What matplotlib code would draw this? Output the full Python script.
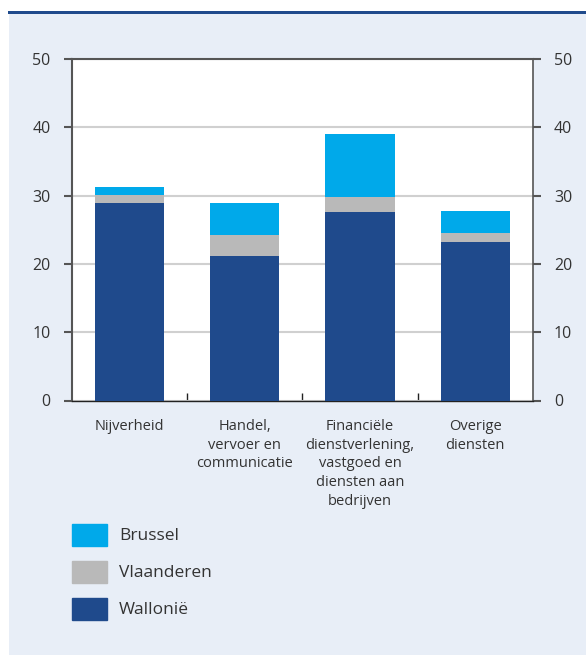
import numpy as np
from matplotlib import pyplot as plt
from matplotlib.patches import Rectangle, Patch

categories = ['Nijverheid', 'Handel,\nvervoer en\ncommunicatie',
              'Financiële\ndienstverlening,\nvastgoed en\ndiensten aan\nbedrijven',
              'Overige\ndiensten']
wallonie = [28.9, 21.1, 27.6, 23.2]
vlaanderen = [1.2, 3.1, 2.2, 1.3]
brussel = [1.1, 4.7, 9.2, 3.2]

c_wal = '#1f4a8c'
c_vla = '#b9b9b9'
c_bru = '#00a9ea'
panel = '#e8eef7'
txt = '#333333'

plt.rcParams['font.family'] = ['Open Sans', 'DejaVu Sans']

fig = plt.figure(figsize=(5.86, 6.55), dpi=100)
fig.patches.append(Rectangle((9 / 586, 0), 1, 1 - 13 / 655, transform=fig.transFigure,
                             facecolor=panel, edgecolor='none', zorder=-10))
fig.patches.append(Rectangle((8 / 586, 1 - 13.5 / 655), 1, 3 / 655, transform=fig.transFigure,
                             facecolor='#1f4a8c', edgecolor='none', zorder=-9))

ax = fig.add_axes([71.5 / 586, 1 - 400.5 / 655, (533 - 71.5) / 586, (400.5 - 59) / 655])
ax.set_facecolor('white')

x = np.arange(len(categories))
w = 0.6
b1 = np.array(wallonie)
b2 = b1 + np.array(vlaanderen)
ax.bar(x, wallonie, w, color=c_wal, zorder=3)
ax.bar(x, vlaanderen, w, bottom=b1, color=c_vla, zorder=3)
ax.bar(x, brussel, w, bottom=b2, color=c_bru, zorder=3)

ax.set_xlim(-0.5, 3.5)
ax.set_ylim(0, 50)
ax.set_yticks(range(0, 51, 10))
ax.yaxis.grid(True, color='#d0d0d0', linewidth=1.5, zorder=0)
ax.set_axisbelow(True)

ax.set_xticks(x)
ax.set_xticklabels(categories, fontsize=10.5, color=txt, linespacing=1.36, va='top')
ax.tick_params(axis='x', which='major', length=0, pad=13)
ax.set_xticks([0.5, 1.5, 2.5], minor=True)
ax.tick_params(axis='x', which='minor', direction='in', length=6, width=1, color='#222222')

ax.tick_params(axis='y', which='both', direction='out', length=6, width=1.5, color='#555555',
               labelsize=11.5, labelcolor=txt, pad=9, left=True, right=True,
               labelleft=True, labelright=True)

for s in ['left', 'top', 'right']:
    ax.spines[s].set_color('#555555')
    ax.spines[s].set_linewidth(1.5)
ax.spines['right'].set_linewidth(1.2)
ax.spines['bottom'].set_color('#222222')
ax.spines['bottom'].set_linewidth(1)

handles = [Patch(color=c_bru, label='Brussel'),
           Patch(color=c_vla, label='Vlaanderen'),
           Patch(color=c_wal, label='Wallonië')]
fig.legend(handles=handles, loc='upper left', bbox_to_anchor=(72 / 586, 1 - 523.5 / 655),
           frameon=False, fontsize=12.5, handlelength=2.0, handleheight=1.6,
           labelspacing=0.85, handletextpad=0.7, borderpad=0, borderaxespad=0,
           labelcolor=txt)

fig.savefig('out.png', dpi=100, facecolor='white')
